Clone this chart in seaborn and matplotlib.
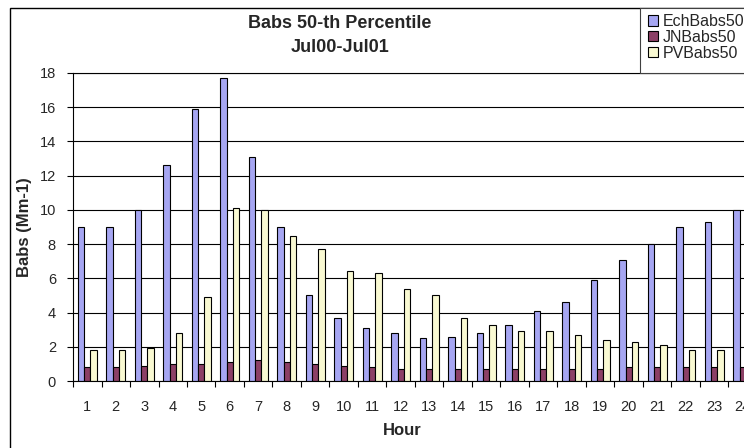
import matplotlib
matplotlib.use("Agg")
import numpy as np
import pandas as pd
import matplotlib.pyplot as plt
import seaborn as sns
from matplotlib.patches import Rectangle

# Median light absorption by hour of day, three sites
hours = list(range(1, 25))
series_names = ["EchBabs50", "JNBabs50", "PVBabs50"]
ech = [9.0, 9.0, 10.0, 12.6, 15.9, 17.7, 13.1, 9.0, 5.0, 3.7, 3.1, 2.8,
       2.5, 2.6, 2.8, 3.3, 4.1, 4.6, 5.9, 7.1, 8.0, 9.0, 9.3, 10.0]
jn = [0.8, 0.8, 0.9, 1.0, 1.0, 1.1, 1.2, 1.1, 1.0, 0.9, 0.8, 0.7,
      0.7, 0.7, 0.7, 0.7, 0.7, 0.7, 0.7, 0.8, 0.8, 0.8, 0.8, 0.8]
pv = [1.8, 1.8, 1.9, 2.8, 4.9, 10.1, 10.0, 8.5, 7.7, 6.4, 6.3, 5.4,
      5.0, 3.7, 3.3, 2.9, 2.9, 2.7, 2.4, 2.3, 2.1, 1.8, 1.8, 1.8]
y_ticks = [0, 2, 4, 6, 8, 10, 12, 14, 16, 18]
colors = ["#9999FF", "#993366", "#FFFFCC"]

df = pd.DataFrame({
    "Hour": hours * 3,
    "Babs": ech + jn + pv,
    "Series": [s for s in series_names for _ in hours],
})

sns.set_style("white")
plt.rcParams["font.family"] = ["Liberation Sans", "DejaVu Sans"]

W, H = 744, 448
fig = plt.figure(figsize=(W / 100, H / 100), dpi=100)
fig.patch.set_facecolor("white")

# plot area in pixel terms: left 73, top 73, bottom 381, right 757 (runs past the edge)
ax = fig.add_axes([73 / W, 1 - 381 / H, 684 / W, 308 / H])

sns.barplot(data=df, x="Hour", y="Babs", hue="Series", order=hours,
            hue_order=series_names, palette=colors, width=0.667, gap=0,
            edgecolor="black", linewidth=0.8, errorbar=None, ax=ax)

ax.set_xlim(-0.5, 23.5)
ax.set_ylim(0, 18)
ax.set_yticks(y_ticks)
ax.set_yticklabels([str(v) for v in y_ticks], fontsize=10.5)
ax.yaxis.grid(True, color="black", linewidth=0.8)
ax.xaxis.grid(False)
ax.set_axisbelow(True)

# category boundaries carry tick marks, centres carry labels
ax.set_xticks(np.arange(-0.5, 24, 1))
ax.set_xticklabels([])
ax.set_xticks(np.arange(24), minor=True)
ax.set_xticklabels([str(h) for h in hours], minor=True, fontsize=10.5)
ax.tick_params(axis="x", which="major", length=4, width=0.8, direction="out",
               color="black", bottom=True)
ax.tick_params(axis="x", which="minor", length=0, pad=14)
ax.tick_params(axis="y", length=4.3, width=0.8, direction="out", color="black",
               pad=8, left=True)

for side in ["left", "bottom", "top"]:
    ax.spines[side].set_visible(True)
    ax.spines[side].set_color("black")
    ax.spines[side].set_linewidth(0.8)
ax.spines["right"].set_visible(False)

ax.set_xlabel("Hour", fontsize=12, fontweight="bold")
ax.xaxis.set_label_coords((402 - 73) / 684, (381 - 423) / 308)
ax.xaxis.label.set_verticalalignment("top")
ax.set_ylabel("Babs (Mm-1)", fontsize=12, fontweight="bold")
ax.yaxis.set_label_coords((25 - 73) / 684, 0.5)
ax.yaxis.label.set_verticalalignment("center")

# chart title
fig.text(340 / W, 1 - 23 / H, "Babs 50-th Percentile", ha="center", va="center",
         fontsize=13, fontweight="bold")
fig.text(340 / W, 1 - 48 / H, "Jul00-Jul01", ha="center", va="center",
         fontsize=13, fontweight="bold")

# outer chart border
fig.patches.append(Rectangle((10 / W, -0.1), 1.2, 1 - 8 / H + 0.1,
                             transform=fig.transFigure, fill=False,
                             edgecolor="black", linewidth=1.0, zorder=0))

# legend box and entries
handles, labels = ax.get_legend_handles_labels()
ax.get_legend().remove()
fig.patches.append(Rectangle((640 / W, 1 - 73 / H), 0.3, 65 / H,
                             transform=fig.transFigure, facecolor="white",
                             edgecolor="#404040", linewidth=0.8, zorder=3))
leg = fig.legend(handles, labels, loc="upper left",
                 bbox_to_anchor=(648 / W, 1 - 14 / H), frameon=False,
                 fontsize=11.5, handlelength=0.62, handleheight=0.62,
                 handletextpad=0.3, labelspacing=0.05, borderpad=0.0,
                 borderaxespad=0.0)
leg.set_zorder(4)

fig.savefig("out.png", dpi=100)
